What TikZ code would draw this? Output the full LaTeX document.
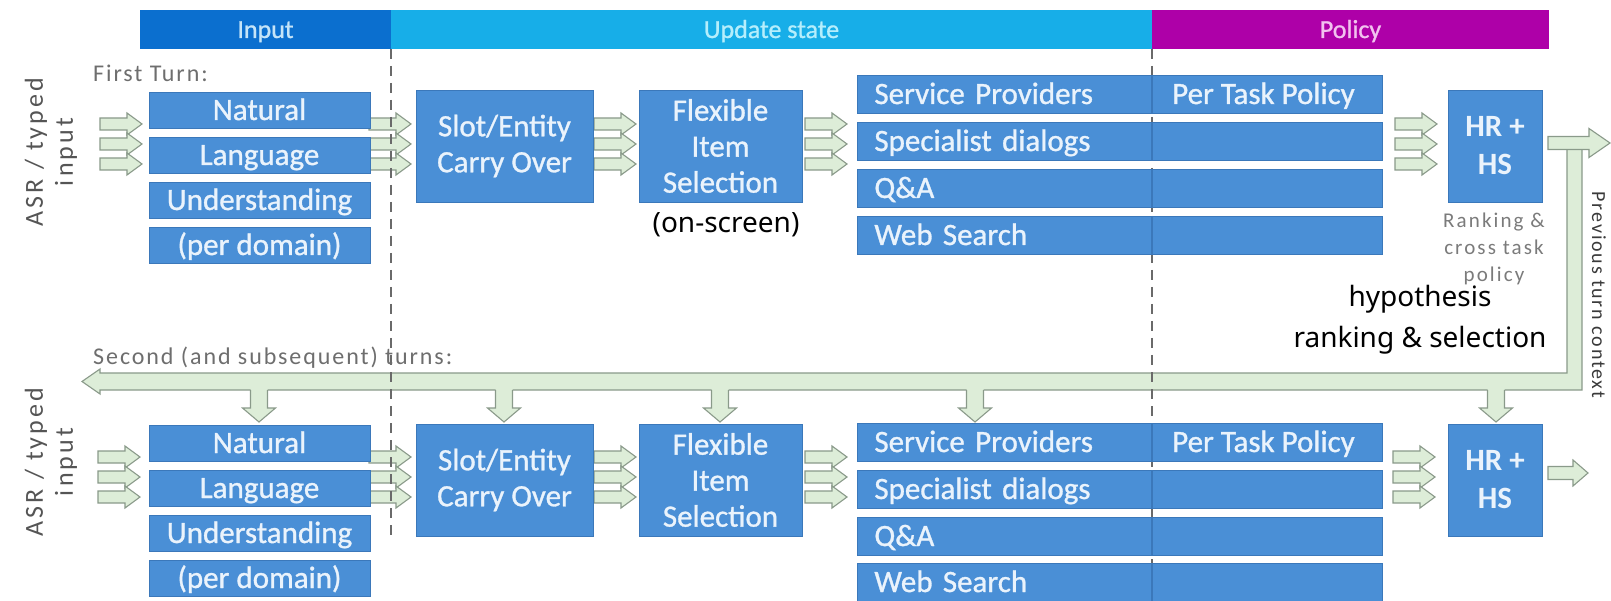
\documentclass[tikz,border=0pt]{standalone}
\usepackage{fontspec}
\setmainfont{Carlito}
\newfontfamily\boxfont[FakeBold=1]{Carlito}
\newfontfamily\blackfont{Noto Sans}
\newfontfamily\grayfont[LetterSpace=8]{Carlito}
\newfontfamily\rankfont[LetterSpace=10]{Carlito}
\newfontfamily\asrfont[LetterSpace=12]{Carlito}
\newfontfamily\prevfont[LetterSpace=9]{Carlito}
\definecolor{boxblue}{HTML}{4A8FD6}
\definecolor{boxedge}{HTML}{3B78BA}
\definecolor{boxtext}{HTML}{EAF3FC}
\definecolor{hdrinput}{HTML}{0B6FCF}
\definecolor{hdrupdate}{HTML}{17AEE8}
\definecolor{hdrpolicy}{HTML}{AE00A8}
\definecolor{hdrinputtext}{HTML}{C5E4F8}
\definecolor{hdrupdatetext}{HTML}{B5EEFC}
\definecolor{hdrpolicytext}{HTML}{F2C2EF}
\definecolor{arrfill}{HTML}{DDEDD8}
\definecolor{arredge}{HTML}{8A9A8A}
\definecolor{labgray}{HTML}{6E6E6E}
\definecolor{rankgray}{HTML}{7B7B7B}
\definecolor{asrgray}{HTML}{555555}
\definecolor{prevgray}{HTML}{3A3A3A}
\definecolor{sepgray}{HTML}{6A6A6A}
\tikzset{
  box/.style={fill=boxblue, draw=boxedge, line width=0.8pt, text=boxtext, inner sep=0pt, font=\boxfont\fontsize{31}{36}\selectfont, align=center},
  nlu/.style={box, minimum width=221pt, minimum height=36pt, text height=20pt, text depth=0pt},
  bigbox/.style={box, minimum height=112pt},
  bar/.style={box, anchor=west, minimum height=38pt, text width=491pt, inner xsep=17pt, align=left, text height=20pt, text depth=0pt},
  bartext/.style={inner sep=0pt, text=boxtext, font=\boxfont\fontsize{31}{36}\selectfont, text height=20pt, text depth=0pt, anchor=west},
  hdr/.style={minimum height=39pt, inner sep=0pt, font=\boxfont\fontsize{26}{30}\selectfont, text height=17pt, text depth=0pt},
  blocka/.style={fill=arrfill, draw=arredge, line width=1.1pt, line join=miter},
  sepline/.style={draw=sepgray, line width=1.4pt, dash pattern=on 10pt off 7pt},
  graylbl/.style={inner sep=0pt, text=labgray, font=\grayfont\fontsize{24}{28}\selectfont},
  ranklbl/.style={inner sep=0pt, text=rankgray, font=\rankfont\fontsize{21}{24}\selectfont, anchor=base},
  blacklbl/.style={inner sep=0pt, text=black, font=\blackfont\fontsize{28}{42}\selectfont, anchor=base},
  asrlbl/.style={inner sep=0pt, rotate=90, align=center, text=asrgray, font=\asrfont\fontsize{26}{30}\selectfont},
  pics/rarr/.style={code={\draw[blocka] (-42,-6) -- (-15,-6) -- (-15,-11) -- (0,0) -- (-15,11) -- (-15,6) -- (-42,6) -- cycle;}},
  pics/darr/.style={code={
    \fill[arrfill] (-8.5,-34) -- (-8.5,-14) -- (-16.5,-14) -- (0,0) -- (16.5,-14) -- (8.5,-14) -- (8.5,-34) -- cycle;
    \draw[arredge, line width=1.1pt, line join=miter] (-8.5,-32) -- (-8.5,-14) -- (-16.5,-14) -- (0,0) -- (16.5,-14) -- (8.5,-14) -- (8.5,-32);}},
}
\newcommand\tri[2]{\foreach \dy in {-20,0,20} {\pic at (#1,{#2+\dy}) {rarr};}}
\begin{document}
\begin{tikzpicture}[x=1pt,y=-1pt]
\useasboundingbox (0,0) rectangle (1611,601);
\fill[white] (0,0) rectangle (1611,601);
% header
\node[hdr, fill=hdrinput, text=hdrinputtext, minimum width=251pt] (hin) at (265.5,29.5) {Input};
\node[hdr, fill=hdrupdate, text=hdrupdatetext, minimum width=761pt] (hup) at (771.5,29.5) {Update state};
\node[hdr, fill=hdrpolicy, text=hdrpolicytext, minimum width=397pt] (hpo) at (1350.5,29.5) {Policy};
% feedback loop arrow
\draw[blocka] (1567,148) -- (1582,148) -- (1582,390) -- (100,390) -- (100,394) -- (82,381.5) -- (100,369) -- (100,373) -- (1567,373) -- cycle;
\draw[blocka] (1548,136.5) -- (1589,136.5) -- (1589,128.5) -- (1610,143) -- (1589,157.5) -- (1589,149.5) -- (1548,149.5) -- cycle;
\draw[blocka] (1548,466.5) -- (1573,466.5) -- (1573,460) -- (1588,473) -- (1573,486) -- (1573,479.5) -- (1548,479.5) -- cycle;
\foreach \xx in {259,504,720,975,1496} {\pic at (\xx,422) {darr};}
% small arrow triples
\tri{142}{144}
\tri{411}{144}
\tri{636}{144}
\tri{847}{144}
\tri{1437}{144}
\tri{140}{477}
\tri{411}{477}
\tri{636}{477}
\tri{847}{477}
\tri{1435}{477}
% dashed separators
\draw[sepline] (391,49) -- (391,537);
\draw[sepline] (1152,49) -- (1152,601);
% first turn
\node[nlu] (n1a) at (259.5,110) {Natural};
\node[nlu] (n1b) at (259.5,155) {Language};
\node[nlu] (n1c) at (259.5,200) {Understanding};
\node[nlu] (n1d) at (259.5,245) {(per domain)};
\node[bigbox, minimum width=177pt] (slot1) at (504.5,146) {Slot/Entity\\Carry Over};
\node[bigbox, minimum width=163pt] (flex1) at (720.5,146) {Flexible\\Item\\Selection};
\node[bigbox, minimum width=94pt, font=\fontsize{31}{38}\selectfont\bfseries] (hr1) at (1495,146) {HR +\\HS};
\node[bar] (sp1) at (857,94) {Service Providers};
\node[bar] (sd1) at (857,141) {Specialist dialogs};
\node[bar] (qa1) at (857,188) {Q\&A};
\node[bar] (ws1) at (857,235) {Web Search};
\node[bartext] (pt1) at (1172,94) {Per Task Policy};
% second turn
\node[nlu] (n2a) at (259.5,443) {Natural};
\node[nlu] (n2b) at (259.5,488) {Language};
\node[nlu] (n2c) at (259.5,533) {Understanding};
\node[nlu] (n2d) at (259.5,578) {(per domain)};
\node[bigbox, minimum width=177pt] (slot2) at (504.5,480) {Slot/Entity\\Carry Over};
\node[bigbox, minimum width=163pt] (flex2) at (720.5,480) {Flexible\\Item\\Selection};
\node[bigbox, minimum width=94pt, font=\fontsize{31}{38}\selectfont\bfseries] (hr2) at (1495,480) {HR +\\HS};
\node[bar] (sp2) at (857,442) {Service Providers};
\node[bar] (sd2) at (857,489) {Specialist dialogs};
\node[bar] (qa2) at (857,536) {Q\&A};
\node[bar] (ws2) at (857,582) {Web Search};
\node[bartext] (pt2) at (1172,442) {Per Task Policy};
% separators inside bars
\foreach \yy in {94,141,188,235,442,489,536,582} {\draw[boxedge, line width=1.3pt] (1152,\yy-19) -- (1152,\yy+19);}
% labels
\node[graylbl, anchor=base west] (ft) at (93,82) {First Turn:};
\node[graylbl, anchor=base west] (st) at (93,364) {Second (and subsequent) turns:};
\node[asrlbl] (asr1) at (51,152) {ASR / typed\\input};
\node[asrlbl] (asr2) at (51,462) {ASR / typed\\input};
\node[blacklbl] (onscr) at (726,233) {(on-screen)};
\node[blacklbl] (hyp) at (1420,307) {hypothesis};
\node[blacklbl] (rank) at (1420,348) {ranking \& selection};
\node[ranklbl] (rk1) at (1494,228) {Ranking \&};
\node[ranklbl] (rk2) at (1494,255) {cross task};
\node[ranklbl] (rk3) at (1494,282) {policy};
\node[rotate=-90, inner sep=0pt, text=prevgray, font=\prevfont\fontsize{20}{24}\selectfont] (prev) at (1599,295) {Previous turn context};
\end{tikzpicture}
\end{document}
